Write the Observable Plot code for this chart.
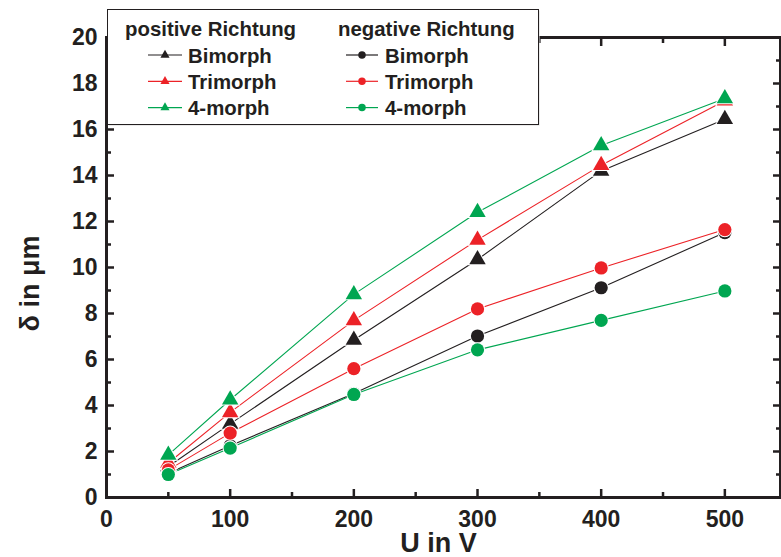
<!DOCTYPE html>
<html><head><meta charset="utf-8">
<script src="https://cdn.jsdelivr.net/npm/d3@7"></script>
<script src="https://cdn.jsdelivr.net/npm/@observablehq/plot@0.6"></script>
<style>
body{margin:0;background:#fff;}
#wrap{position:relative;width:781px;height:557px;overflow:hidden;background:#fff;}
</style></head><body><div id="wrap"></div>
<script>
const voltages = [50, 100, 200, 300, 400, 500];
const seriesNames = ["Bimorph", "Trimorph", "4-morph"];
const directions = ["positive Richtung", "negative Richtung"];
const seriesColors = ["#231f20", "#ec2227", "#00a651"];
const posBimorph  = [1.35, 3.2, 6.85, 10.35, 14.2, 16.45];
const posTrimorph = [1.5, 3.7, 7.7, 11.2, 14.45, 17.25];
const pos4morph   = [1.85, 4.25, 8.83, 12.4, 15.3, 17.35];
const negBimorph  = [1.05, 2.25, 4.52, 7.02, 9.12, 11.52];
const negTrimorph = [1.2, 2.8, 5.6, 8.2, 9.98, 11.65];
const neg4morph   = [1.0, 2.15, 4.48, 6.42, 7.7, 8.98];
const xMajor = [0, 100, 200, 300, 400, 500];
const xMinor = [50, 150, 250, 350, 450];
const yMajor = [0, 2, 4, 6, 8, 10, 12, 14, 16, 18, 20];
const yMinor = [1, 3, 5, 7, 9, 11, 13, 15, 17, 19];
const xLabel = "U in V";
const yLabel = "δ in μm";

const ink = "#231f20";
const font = "'Liberation Sans', Arial, Helvetica, sans-serif";
const posSeries = [posBimorph, posTrimorph, pos4morph];
const negSeries = [negBimorph, negTrimorph, neg4morph];

function rows(arrs, dir) {
  const out = [];
  arrs.forEach((vals, s) => vals.forEach((v, i) => out.push({
    U: voltages[i], delta: v, series: seriesNames[s], dir, key: dir + s, color: seriesColors[s]
  })));
  return out;
}
const posData = rows(posSeries, "pos");
const negData = rows(negSeries, "neg");
const allData = posData.concat(negData);

const tickCommon = {label: null, stroke: ink, strokeWidth: 2.5};
const blank = () => "";

const chart = Plot.plot({
  width: 781, height: 557,
  marginLeft: 106, marginRight: 1, marginTop: 37, marginBottom: 60,
  x: {domain: [0, 545]},
  y: {domain: [0, 20]},
  color: {type: "identity"},
  style: {fontFamily: font, fontSize: "23px", fontWeight: "bold", color: ink, background: "white", overflow: "visible"},
  marks: [
    Plot.line(allData, {x: "U", y: "delta", z: "key", stroke: "color", strokeWidth: 1.1}),
    Plot.dot(posData, {x: "U", y: "delta", fill: "color", symbol: "triangle", r: 6.1, stroke: "white", strokeWidth: 2, paintOrder: "stroke"}),
    Plot.dot(negData, {x: "U", y: "delta", fill: "color", symbol: "circle", r: 6.6, stroke: "white", strokeWidth: 2, paintOrder: "stroke"}),
    Plot.axisX(xMajor, {...tickCommon, anchor: "bottom", tickSize: -8, tickPadding: 21, tickFormat: d => String(d)}),
    Plot.axisX(xMinor, {...tickCommon, anchor: "bottom", tickSize: -5, tickFormat: blank}),
    Plot.axisX(xMajor, {...tickCommon, anchor: "top", tickSize: -8, tickFormat: blank}),
    Plot.axisX(xMinor, {...tickCommon, anchor: "top", tickSize: -5, tickFormat: blank}),
    Plot.axisY(yMajor, {...tickCommon, anchor: "left", tickSize: -8, tickPadding: 17, tickFormat: d => String(d)}),
    Plot.axisY(yMinor, {...tickCommon, anchor: "left", tickSize: -5, tickFormat: blank}),
    Plot.axisY(yMajor, {...tickCommon, anchor: "right", tickSize: -8, tickFormat: blank}),
    Plot.axisY(yMinor, {...tickCommon, anchor: "right", tickSize: -5, tickFormat: blank}),
    Plot.frame({stroke: ink, strokeWidth: 3}),
    Plot.text([xLabel], {text: d => d, frameAnchor: "bottom", textAnchor: "middle", lineAnchor: "middle", dy: 46, dx: -5, fontSize: 27, fill: ink}),
    Plot.text([yLabel], {text: d => d, frameAnchor: "left", textAnchor: "middle", lineAnchor: "middle", rotate: -90, dx: -76, dy: 16, fontSize: 27, fill: ink})
  ]
});
const wrap = document.getElementById("wrap");
wrap.appendChild(chart);

// Legend box (inside the plot area, overlapping the top-left)
const leg = d3.create("svg")
  .attr("width", 436).attr("height", 120)
  .style("position", "absolute").style("left", "107px").style("top", "9px")
  .style("font-family", font).style("font-weight", "bold").style("font-size", "20.4px");
leg.append("rect").attr("x", 1.5).attr("y", 1.5).attr("width", 431).attr("height", 115).attr("fill", "#d6d6d6");
leg.append("rect").attr("x", 0.5).attr("y", 0.5).attr("width", 431).attr("height", 115)
  .attr("fill", "white").attr("stroke", ink).attr("stroke-width", 1);
const colX = [{line: [41, 75], mark: 58, text: 81, head: 18, sym: d3.symbolTriangle, size: 36},
              {line: [239, 271], mark: 255, text: 278, head: 231, sym: d3.symbolCircle, size: 44}];
directions.forEach((dname, c) => {
  const col = colX[c];
  leg.append("text").attr("x", col.head).attr("y", 27).attr("fill", ink).text(dname);
  seriesNames.forEach((sname, i) => {
    const cy = 46 + 26.3 * i;
    const color = seriesColors[i];
    leg.append("line").attr("x1", col.line[0]).attr("x2", col.line[1]).attr("y1", cy).attr("y2", cy)
      .attr("stroke", color).attr("stroke-width", 1.2);
    leg.append("path").attr("d", d3.symbol(col.sym, col.size)()).attr("transform", `translate(${col.mark},${cy})`)
      .attr("fill", color);
    leg.append("text").attr("x", col.text).attr("y", cy + 7.5).attr("fill", ink).text(sname);
  });
});
wrap.appendChild(leg.node());
</script></body></html>
